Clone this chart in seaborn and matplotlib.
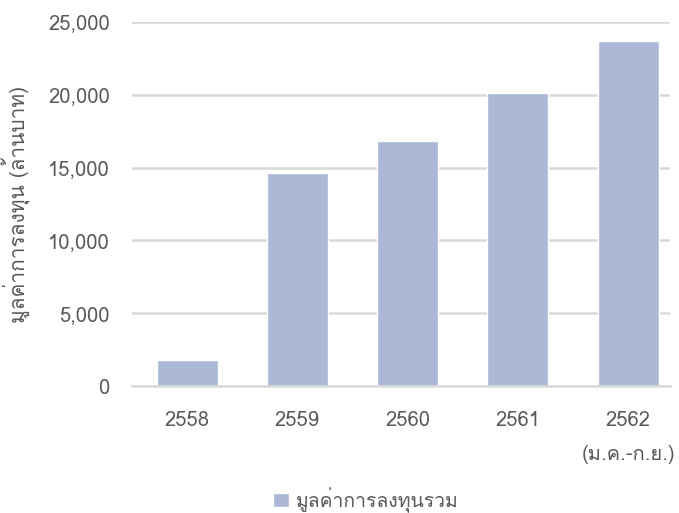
import matplotlib
matplotlib.use("Agg")
import matplotlib.pyplot as plt
import seaborn as sns
import pandas as pd
from matplotlib import font_manager

years = ["2558", "2559", "2560", "2561", "2562\n(ม.ค.-ก.ย.)"]
values = [1800, 14600, 16800, 20100, 23700]
series_name = "มูลค่าการลงทุนรวม"
y_label = "มูลค่าการลงทุน (ล้านบาท)"

sns.set_style("white")
thai = [f.name for f in font_manager.fontManager.ttflist if "Thai" in f.name or "Loma" in f.name or "Garuda" in f.name]
plt.rcParams["font.family"] = thai[:1] + ["DejaVu Sans", "Noto Sans"]

df = pd.DataFrame({"year": years, "value": values, "series": series_name})

fig, ax = plt.subplots(figsize=(6.79, 5.13), dpi=100)
fig.subplots_adjust(left=132 / 679, right=670 / 679, top=1 - 22 / 513, bottom=1 - 386 / 513)

sns.barplot(data=df, x="year", y="value", hue="series", palette=["#abb9d6"],
            width=0.553, ax=ax, saturation=1)

ax.set_xlim(-0.5, 4.38)
ax.set_ylim(0, 25000)
ax.set_yticks(range(0, 25001, 5000))
ax.yaxis.set_major_formatter(matplotlib.ticker.FuncFormatter(lambda v, p: f"{int(v):,}"))
ax.grid(axis="y", color="#d9d9d9", linewidth=1.8)
ax.set_axisbelow(True)
for s in ["top", "right", "left"]:
    ax.spines[s].set_visible(False)
ax.spines["bottom"].set_color("#d9d9d9")
ax.spines["bottom"].set_linewidth(1.8)
ax.tick_params(axis="both", length=0, colors="#595959", labelsize=14.5)
ax.tick_params(axis="y", pad=16)
ax.tick_params(axis="x", pad=18)
for lbl in ax.get_xticklabels():
    lbl.set_linespacing(2.0)
ax.set_xlabel("")
ax.set_ylabel(y_label, color="#595959", fontsize=15, labelpad=12)

ax.legend(loc="upper center", bbox_to_anchor=(0.435, -0.24), frameon=False,
          fontsize=14, handlelength=0.8, handleheight=0.8, handletextpad=0.4,
          labelcolor="#595959", borderpad=0.2)

fig.savefig("out.png", dpi=100)
